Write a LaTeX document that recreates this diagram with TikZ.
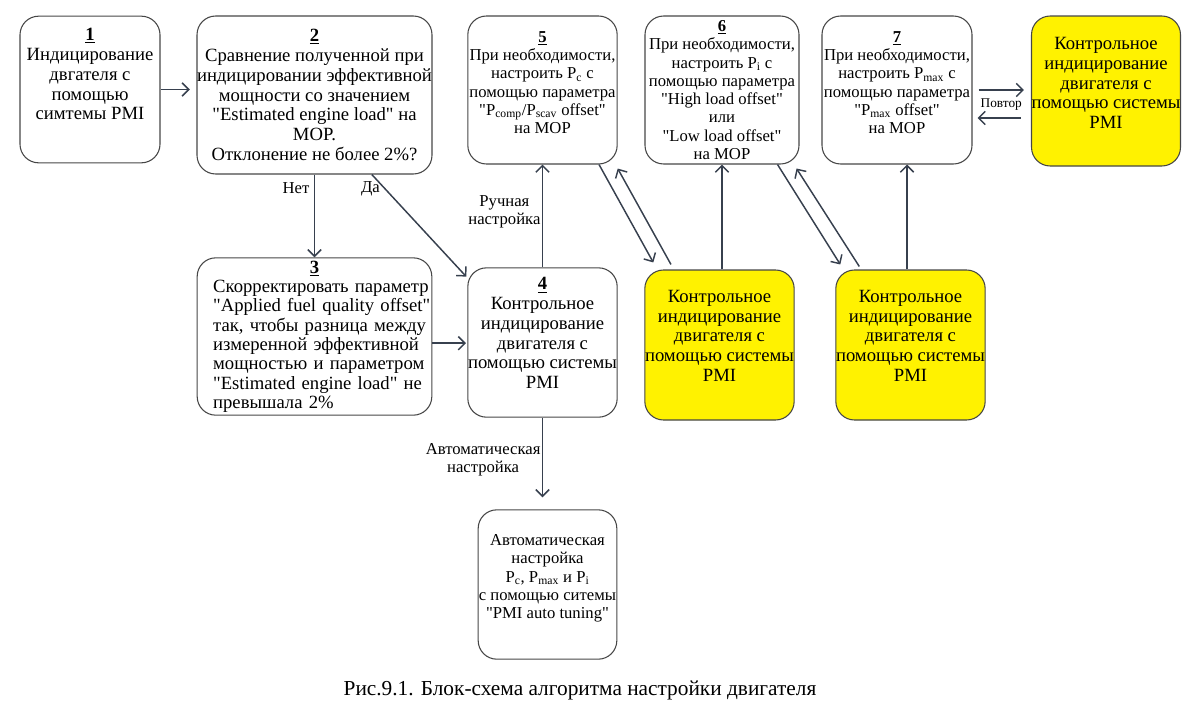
\documentclass[tikz,border=0pt]{standalone}
\usepackage{fontspec}
\setmainfont{Liberation Serif}[Ligatures=TeXOff]
\usepackage{xcolor}
\usepackage{tikz}
\usetikzlibrary{arrows.meta, positioning, calc}
\definecolor{pmiyellow}{RGB}{255,242,0}
\definecolor{boxline}{RGB}{70,70,70}
\definecolor{linkline}{RGB}{55,64,78}
\newcommand{\lift}[1]{\rule[-#1]{0pt}{#1}}
\newcommand{\stepno}[1]{\textbf{\underline{#1}}}

\begin{document}
\begin{tikzpicture}[x=0.75pt, y=-0.75pt,
  stepbox/.style={rectangle, draw=boxline, line width=0.8pt, rounded corners=14pt, align=center, inner sep=0pt, font=\fontsize{14}{14.8}\selectfont},
  smallbox/.style={stepbox, font=\fontsize{12.5}{13.7}\selectfont},
  pmibox/.style={stepbox, fill=pmiyellow},
  link/.style={draw=linkline, line width=1.1pt, -{Straight Barb[length=5pt, width=10pt, line width=1.1pt]}},
  note/.style={font=\fontsize{12.5}{13.7}\selectfont, align=center}]

\useasboundingbox (0,0) rectangle (1200,711);

% --- Top row ---
\node[stepbox, minimum width=105pt, minimum height=110pt] (ind) at (90,89.5)
{\stepno{1}\\ Индицирование\\ двгателя с\\ помощью\\ симтемы PMI\lift{23pt}};

\node[stepbox, minimum width=176pt, minimum height=118.5pt] (cmp) at (314.5,95)
{\stepno{2}\\ Сравнение полученной при\\ индицировании эффективной\\ мощности со значением\\ "Estimated engine load" на\\ MOP.\\ Отклонение не более 2\%?};

\node[smallbox, minimum width=112pt, minimum height=111pt] (pcset) at (542.5,90)
{\stepno{5}\\ При необходимости,\\ настроить P\textsubscript{c} с\\ помощью параметра\\ "P\textsubscript{comp}/P\textsubscript{scav} offset"\\ на MOP\lift{11pt}};

\node[smallbox, minimum width=115.5pt, minimum height=111pt] (piset) at (722,90)
{\stepno{6}\\ При необходимости,\\ настроить P\textsubscript{i} с\\ помощью параметра\\ "High load offset"\\ или\\ "Low load offset"\\ на MOP};

\node[smallbox, minimum width=112.5pt, minimum height=111pt] (pmaxset) at (897,90)
{\stepno{7}\\ При необходимости,\\ настроить P\textsubscript{max} с\\ помощью параметра\\ "P\textsubscript{max} offset"\\ на MOP\lift{11pt}};

\node[pmibox, minimum width=111pt, minimum height=112.5pt] (pmitop) at (1106,91)
{Контрольное\\ индицирование\\ двигателя с\\ помощью системы\\ PMI\lift{12pt}};

% --- Middle row ---
\node[stepbox, align=left, text width=176pt, minimum height=118pt, font=\fontsize{14}{14.5}\selectfont] (corr) at (314.5,336.5)
{\leftskip=12pt\rightskip=-8pt plus 1fil\hspace*{-12pt}\makebox[\hsize]{\stepno{3}}\\ Скорректировать параметр\\ "Applied fuel quality offset"\\ так, чтобы разница между\\ измеренной эффективной\\ мощностью и параметром\\ "Estimated engine load" не\\ превышала 2\%\par};

\node[stepbox, minimum width=112pt, minimum height=112pt] (ctrl) at (542.5,342.5)
{\stepno{4}\\ Контрольное\\ индицирование\\ двигателя с\\ помощью системы\\ PMI\lift{14pt}};

\node[pmibox, minimum width=112pt, minimum height=112.5pt] (pmia) at (719.5,345)
{Контрольное\\ индицирование\\ двигателя с\\ помощью системы\\ PMI\lift{14pt}};

\node[pmibox, minimum width=112pt, minimum height=112.5pt] (pmib) at (910.5,345)
{Контрольное\\ индицирование\\ двигателя с\\ помощью системы\\ PMI\lift{14pt}};

% --- Bottom ---
\node[smallbox, minimum width=104pt, minimum height=112pt] (auto) at (547.5,584.5)
{Автоматическая\\ настройка\\ P\textsubscript{c}, P\textsubscript{max} и P\textsubscript{i}\\ с помощью ситемы\\ "PMI auto tuning"\lift{12pt}};

\node[font=\fontsize{16}{18}\selectfont] (caption) at (580,690)
{Рис.9.1. Блок-схема алгоритма настройки двигателя};

% --- Arrows ---
\draw[link, shorten >=5pt] (ind.east) -- (ind.east -| cmp.west);
\draw[link] (cmp.south) -- node[note, pos=0.17, left]{Нет} (corr.north);
\draw[link] ([xshift=43pt]cmp.south) -- node[note, pos=0.14, left]{Да} ([xshift=-0.75pt, yshift=-7pt]ctrl.north west);
\draw[link, shorten >=1pt] ([yshift=-5pt]corr.east) -- ([yshift=-5pt]corr.east -| ctrl.west);

\draw[link] (ctrl.north) -- node[note, pos=0.54, left, inner sep=1pt]{Ручная\\настройка} (pcset.south);
\draw[link, shorten >=9pt] (ctrl.south) -- node[note, pos=0.46, left, inner sep=1pt]{Автоматическая\\настройка} (ctrl.south |- auto.north);

\draw[link] ([xshift=-14pt]pcset.south east) -- ([xshift=6.75pt, yshift=5.25pt]pmia.north west);
\draw[link] ([xshift=20pt, yshift=3.75pt]pmia.north west) -- ([yshift=-3pt]pcset.south east);
\draw[link] (piset.south |- pmia.north) -- (piset.south);

\draw[link] ([xshift=-16.5pt]piset.south east) -- ([xshift=3.75pt, yshift=3.75pt]pmib.north west);
\draw[link] ([xshift=18pt, yshift=2.25pt]pmib.north west) -- ([xshift=-2.25pt, yshift=-3pt]piset.south east);
\draw[link] ([xshift=-2.6pt]pmib.north) -- ([xshift=-2.6pt]pmib.north |- pmaxset.south);

\draw[link] ([xshift=4.5pt]pmaxset.east) -- node[pos=0.5, below=3pt, font=\fontsize{10}{11}\selectfont]{Повтор} ([xshift=-5.25pt]pmaxset.east -| pmitop.west);
\draw[link] ([xshift=-7.5pt, yshift=-21pt]pmaxset.east -| pmitop.west) -- ([xshift=3.75pt, yshift=-21pt]pmaxset.east);

\end{tikzpicture}
\end{document}
